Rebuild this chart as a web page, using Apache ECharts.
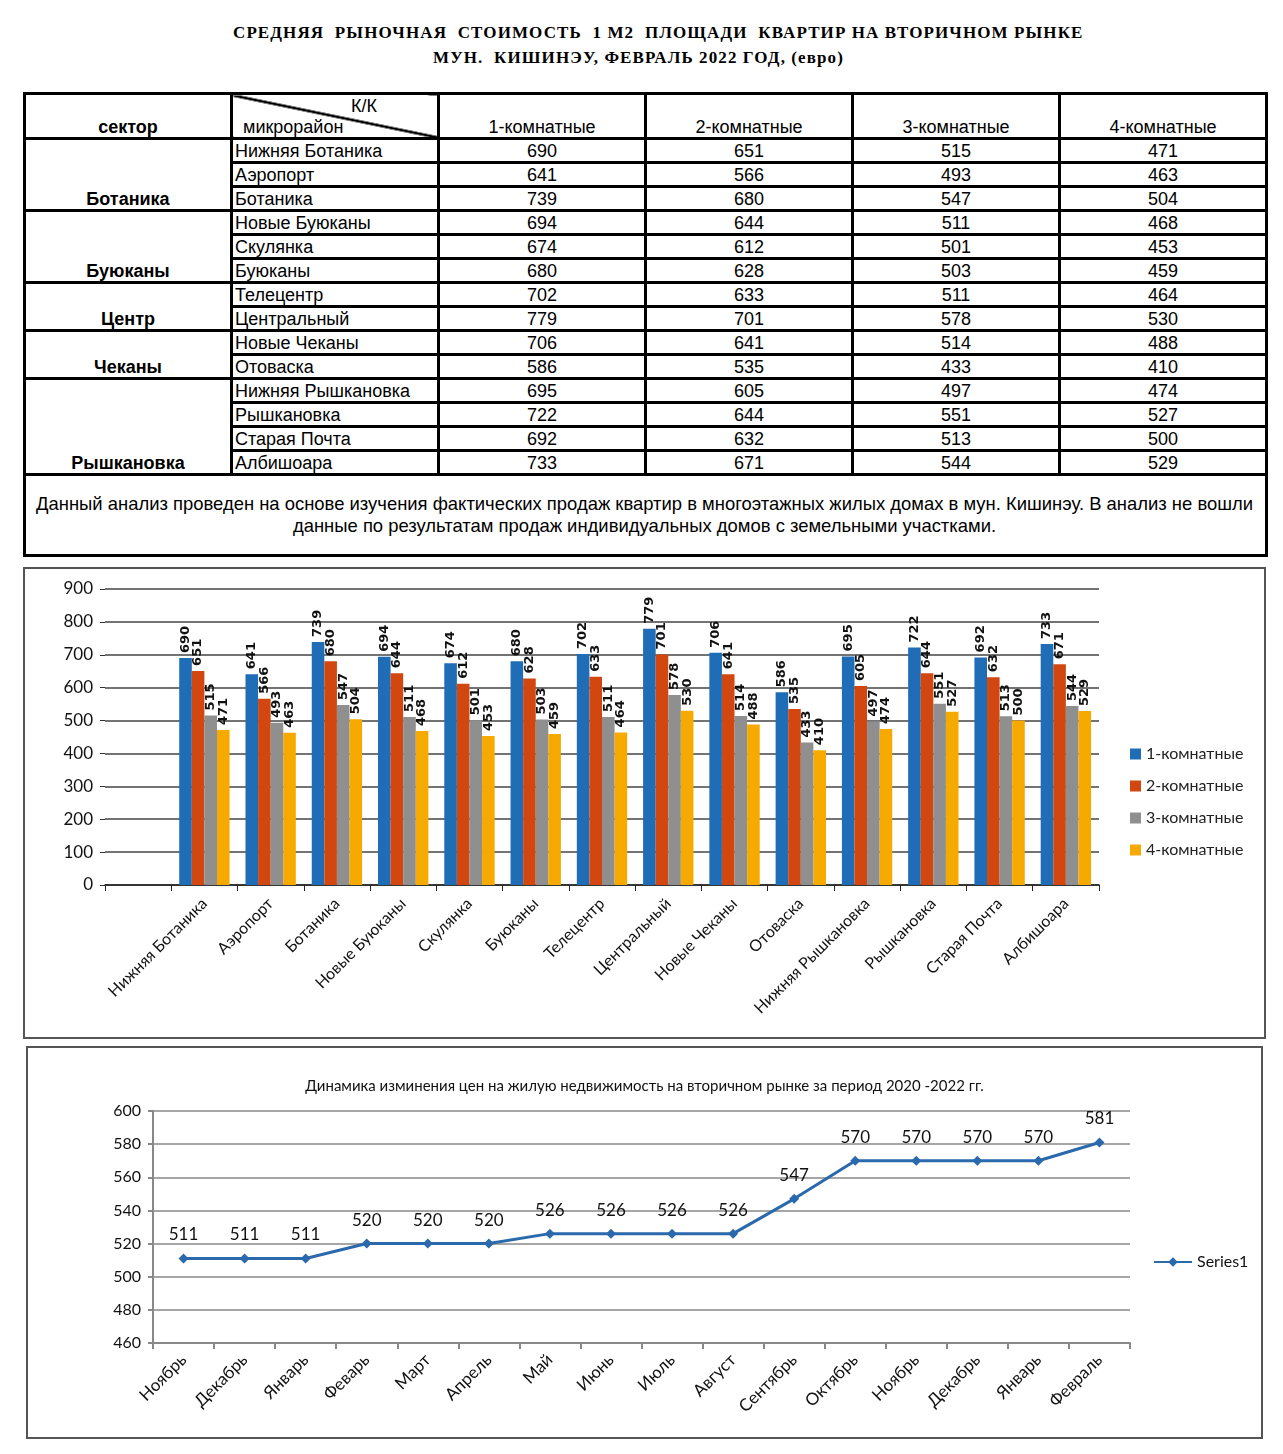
<!DOCTYPE html>
<html><head><meta charset="utf-8">
<script src="https://cdn.jsdelivr.net/npm/echarts@6/dist/echarts.min.js"></script>
<style>
html,body{margin:0;padding:0;background:#fff;}
body{width:1283px;height:1454px;position:relative;overflow:hidden;}
.title{position:absolute;font-family:"Liberation Serif","Times New Roman",serif;font-weight:bold;font-size:17px;letter-spacing:1.1px;white-space:pre;color:#000;}
#tbl{position:absolute;left:23px;top:92px;width:1242px;border-collapse:collapse;font-family:"Liberation Sans",Arial,sans-serif;font-size:18px;color:#000;table-layout:fixed;}
#tbl td{border:3px solid #000;padding:0 2px;height:21px;line-height:20px;}
#tbl td.v{text-align:center;}
#tbl td.d{text-align:left;}
#tbl td.s{text-align:center;vertical-align:bottom;font-weight:bold;}
#tbl tr.h td{height:42px;vertical-align:bottom;text-align:center;}
#tbl tr.h td.diag{position:relative;text-align:left;background:linear-gradient(to top right,transparent calc(50% - 1.6px),#000 calc(50% - 1px),#000 calc(50% + 1px),transparent calc(50% + 1.6px));}
#tbl td.note{height:78px;position:relative;font-family:"Liberation Sans",Arial,sans-serif;font-size:19px;line-height:22px;padding:0;overflow:hidden;}
#noteInner{position:absolute;left:10px;top:50%;display:block;white-space:nowrap;text-align:center;transform-origin:left center;}
.box{position:absolute;border:2px solid #555;box-sizing:border-box;}
</style>
</head><body>
<div class="title" style="left:233px;top:23px;">СРЕДНЯЯ  РЫНОЧНАЯ  СТОИМОСТЬ  1 М2  ПЛОЩАДИ  КВАРТИР НА ВТОРИЧНОМ РЫНКЕ</div>
<div class="title" style="left:433px;top:48px;">МУН.  КИШИНЭУ, ФЕВРАЛЬ 2022 ГОД, (евро)</div>
<table id="tbl"></table>
<div id="bar" class="box" style="left:23px;top:567px;width:1243px;height:472px;"></div>
<div id="line" class="box" style="left:26px;top:1046px;width:1237px;height:393px;"></div>
<script>
// ---- data ----
const roomTypes = ['1-комнатные', '2-комнатные', '3-комнатные', '4-комнатные'];
const sectorNames = ['Ботаника', 'Буюканы', 'Центр', 'Чеканы', 'Рышкановка'];
const sectorSizes = [3, 3, 2, 2, 4];
const districts = ['Нижняя Ботаника', 'Аэропорт', 'Ботаника', 'Новые Буюканы', 'Скулянка', 'Буюканы', 'Телецентр', 'Центральный', 'Новые Чеканы', 'Отоваска', 'Нижняя Рышкановка', 'Рышкановка', 'Старая Почта', 'Албишоара'];
const rooms1 = [690, 641, 739, 694, 674, 680, 702, 779, 706, 586, 695, 722, 692, 733];
const rooms2 = [651, 566, 680, 644, 612, 628, 633, 701, 641, 535, 605, 644, 632, 671];
const rooms3 = [515, 493, 547, 511, 501, 503, 511, 578, 514, 433, 497, 551, 513, 544];
const rooms4 = [471, 463, 504, 468, 453, 459, 464, 530, 488, 410, 474, 527, 500, 529];
const noteLines = ['Данный анализ проведен на основе изучения фактических продаж квартир в многоэтажных жилых домах в мун. Кишинэу. В анализ не вошли', 'данные по результатам  продаж индивидуальных домов с земельными участками.'];
const lineTitle = 'Динамика изминения цен на жилую недвижимость на вторичном рынке за период 2020 -2022 гг.';
const months = ['Ноябрь', 'Декабрь', 'Январь', 'Феварь', 'Март', 'Апрель', 'Май', 'Июнь', 'Июль', 'Август', 'Сентябрь', 'Октябрь', 'Ноябрь', 'Декабрь', 'Январь', 'Февраль'];
const avgPrice = [511, 511, 511, 520, 520, 520, 526, 526, 526, 526, 547, 570, 570, 570, 570, 581];
const roomSeries = [rooms1, rooms2, rooms3, rooms4];

// ---- table ----
(function(){
  const t = document.getElementById('tbl');
  let html = '<colgroup>' + '<col style="width:207px">'.repeat(6) + '</colgroup>';
  html += '<tr class="h"><td style="font-weight:bold">сектор</td>' +
    '<td class="diag"><div style="position:absolute;left:118px;top:1px;">К/К</div><div style="padding-left:8px;">микрорайон</div></td>' +
    roomTypes.map(r => '<td>' + r + '</td>').join('') + '</tr>';
  let idx = 0;
  sectorNames.forEach((s, si) => {
    for (let k = 0; k < sectorSizes[si]; k++) {
      html += '<tr>';
      if (k === 0) html += '<td class="s" rowspan="' + sectorSizes[si] + '">' + s + '</td>';
      html += '<td class="d">' + districts[idx] + '</td>';
      roomSeries.forEach(arr => { html += '<td class="v">' + arr[idx] + '</td>'; });
      html += '</tr>';
      idx++;
    }
  });
  html += '<tr><td class="note" colspan="6"><div id="noteInner">' + noteLines.join('<br>') + '</div></td></tr>';
  t.innerHTML = html;
  const ni = document.getElementById('noteInner');
  const w = ni.offsetWidth;
  ni.style.transform = 'translateY(-50%) scaleX(' + (1217 / w) + ')';
})();

// ---- bar chart ----
const colors = ['#1f6db6', '#d1470f', '#8f8f8f', '#f6aa00'];
const barCats = [''].concat(districts);
const bar = echarts.init(document.getElementById('bar'), null, {renderer: 'canvas'});
bar.setOption({
  animation: false,
  textStyle: {fontFamily: 'Lato, "Open Sans", sans-serif'},
  grid: {left: 80, right: 165, top: 20, bottom: 152},
  legend: {
    orient: 'vertical', left: 1100, top: 172, itemWidth: 11, itemHeight: 11, itemGap: 16,
    icon: 'rect',
    textStyle: {fontSize: 16, color: '#222', fontFamily: 'Lato, "Open Sans", sans-serif'},
    data: roomTypes
  },
  xAxis: {
    type: 'category', data: barCats,
    axisLine: {lineStyle: {color: '#222', width: 1.5}},
    axisTick: {show: true, length: 6, lineStyle: {color: '#222'}},
    axisLabel: {rotate: 45, fontSize: 16, color: '#111', margin: 16, interval: 0}
  },
  yAxis: {
    type: 'value', min: 0, max: 900, interval: 100,
    axisLine: {show: false},
    axisTick: {show: true, length: 5, lineStyle: {color: '#333'}},
    axisLabel: {fontSize: 17, color: '#111', margin: 12},
    splitLine: {lineStyle: {color: '#444', width: 1.5}}
  },
  series: roomSeries.map((arr, i) => ({
    name: roomTypes[i], type: 'bar', data: [null].concat(arr),
    barGap: '0%', barCategoryGap: '24%',
    itemStyle: {color: colors[i]},
    label: {show: true, position: 'top', rotate: 90, align: 'left', verticalAlign: 'middle', distance: 5,
      fontSize: 13, fontWeight: 'bold', color: '#111', fontFamily: '"DejaVu Sans", sans-serif'}
  }))
});

// ---- line chart ----
const line = echarts.init(document.getElementById('line'), null, {renderer: 'canvas'});
line.setOption({
  animation: false,
  textStyle: {fontFamily: 'Lato, "Open Sans", sans-serif'},
  title: {text: lineTitle, left: 'center', top: 26, textStyle: {fontSize: 15, fontWeight: 'normal', color: '#111', fontFamily: 'Lato, "Open Sans", sans-serif'}},
  grid: {left: 125, right: 131, top: 63, bottom: 94},
  legend: {
    orient: 'vertical', left: 1120, top: 201, itemWidth: 38, itemHeight: 12,
    textStyle: {fontSize: 16, color: '#111'},
    data: ['Series1']
  },
  xAxis: {
    type: 'category', data: months,
    axisLine: {lineStyle: {color: '#888', width: 2}},
    axisTick: {show: true, length: 6, lineStyle: {color: '#888', width: 2}},
    axisLabel: {rotate: 45, fontSize: 17, color: '#111', margin: 14, interval: 0}
  },
  yAxis: {
    type: 'value', min: 460, max: 600, interval: 20,
    axisLine: {show: true, lineStyle: {color: '#888', width: 2}},
    axisTick: {show: true, length: 5, lineStyle: {color: '#888', width: 2}},
    axisLabel: {fontSize: 16, color: '#111', margin: 12},
    splitLine: {lineStyle: {color: '#888', width: 1.5}}
  },
  series: [{
    name: 'Series1', type: 'line', data: avgPrice,
    symbol: 'diamond', symbolSize: 10,
    lineStyle: {color: '#2b69ad', width: 3},
    itemStyle: {color: '#2b69ad'},
    label: {show: true, position: 'top', distance: 10, fontSize: 17, color: '#111'}
  }]
});
</script>
</body></html>
